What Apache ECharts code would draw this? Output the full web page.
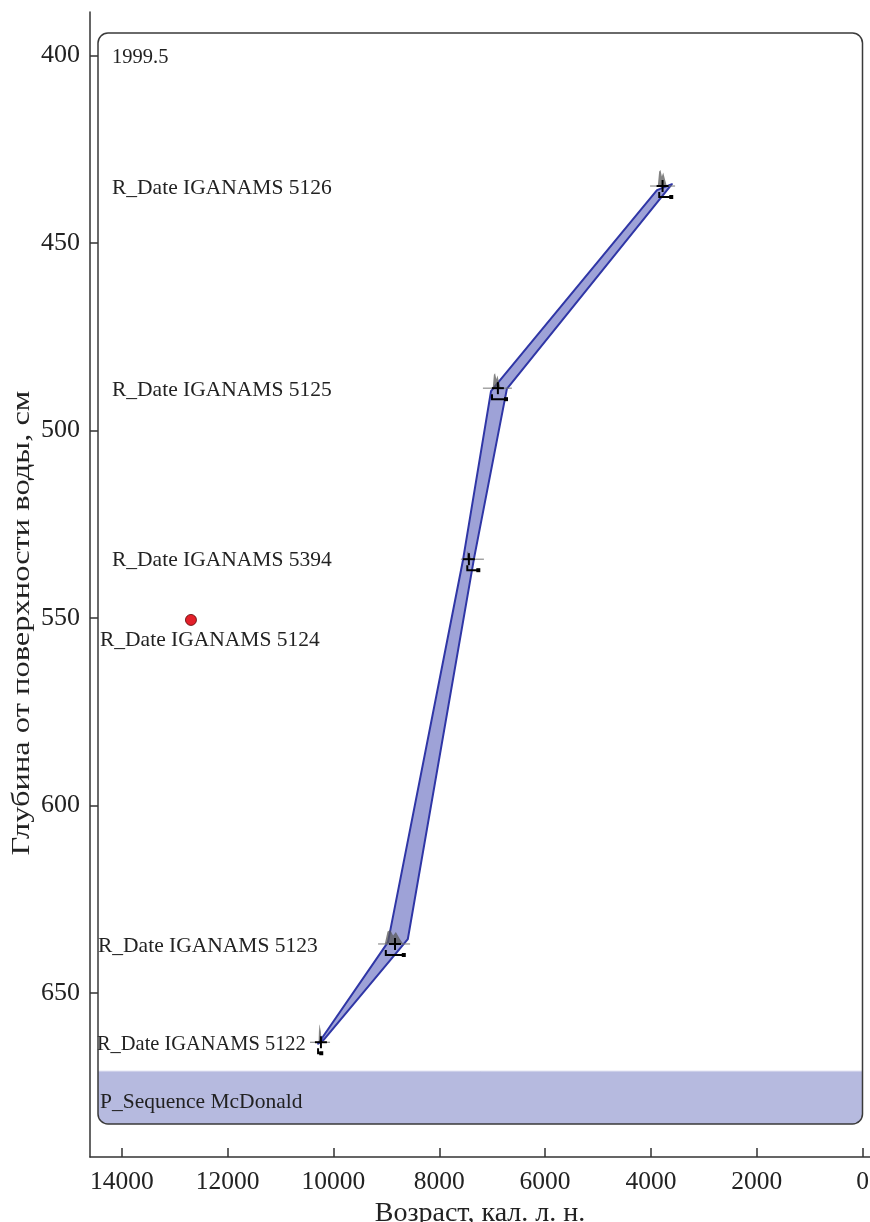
<!DOCTYPE html>
<html><head><meta charset="utf-8">
<script src="https://cdn.jsdelivr.net/npm/echarts@6/dist/echarts.min.js"></script>
<style>html,body{margin:0;padding:0;background:#fff}#c{width:870px;height:1222px}</style>
</head><body><div id="c"></div>
<script>
// ---- data ----
const xTicks = [0, 2000, 4000, 6000, 8000, 10000, 12000, 14000];
const yTicks = [400, 450, 500, 550, 600, 650];

const dateNames = ['R_Date IGANAMS 5126', 'R_Date IGANAMS 5125', 'R_Date IGANAMS 5394', 'R_Date IGANAMS 5123', 'R_Date IGANAMS 5122'];
const dateAge   = [3780, 6892, 7440, 8836, 10236];
const dateDepth = [434.8, 488.7, 534.3, 636.9, 663.1];
const rangeOld   = [4016, 7175, 7591, 9156, 10442];
const rangeYoung = [3543, 6627, 7156, 8551, 10064];
const bracketOld   = [3843, 7003, 7470, 9010, 10290];
const bracketYoung = [3616, 6739, 7262, 8670, 10230];
const distOld   = [3870, 6990, 7480, 9030, 10280];
const distYoung = [3700, 6840, 7400, 8680, 10220];

const outlierName = 'R_Date IGANAMS 5124';
const outlierAge = [12692];
const outlierDepth = [550.5];

const envOldAge     = [3885, 7022, 7551, 8969, 10290];
const envOldDepth   = [435.9, 489.5, 534.5, 636.4, 663.5];
const envYoungAge   = [3604, 6722, 7342, 8594, 10180];
const envYoungDepth = [434.3, 488.9, 534.0, 635.6, 662.4];

const topNote = '1999.5';
const topNoteDepth = 400;
const seqName = 'P_Sequence McDonald';
const seqTopDepth = 670.8;
const seqLabelDepth = 678.6;

// ---- styling (pixel offsets, not data) ----
const labelDx = { note: 22, d0: 22, d1: 22, d2: 22, d3: 8, d4: 7, out: 10, seq: 10 };
const distHeight = [16, 15, 8, 14, 18];

const SERIF = "'Liberation Serif','DejaVu Serif',serif";
const chart = echarts.init(document.getElementById('c'));

// label items: [depth, text, dx, dy, scaleX, fontSize]
const labelItems = [
  [topNoteDepth, topNote, labelDx.note, 2, 1, 20.5],
  [dateDepth[0], dateNames[0], labelDx.d0, 2, 1, 21.5],
  [dateDepth[1], dateNames[1], labelDx.d1, 2, 1, 21.5],
  [dateDepth[2], dateNames[2], labelDx.d2, 1, 1, 21.5],
  [outlierDepth[0], outlierName, labelDx.out, 20, 1, 21.5],
  [dateDepth[3], dateNames[3], labelDx.d3, 2, 1, 21.5],
  [dateDepth[4], dateNames[4], labelDx.d4, 2, 0.95, 21.5],
  [seqLabelDepth, seqName, labelDx.seq, 2, 1, 21.5]
];

const X_MIN = -140, X_MAX = 14600;

const option = {
  animation: false,
  backgroundColor: '#fff',
  grid: { left: 90, right: 0, top: 12, bottom: 65, containLabel: false, outerBoundsMode: 'none' },
  xAxis: {
    type: 'value', min: X_MIN, max: X_MAX, inverse: true,
    name: 'Возраст, кал. л. н.', nameLocation: 'middle', nameGap: 38,
    nameTextStyle: { fontFamily: SERIF, fontSize: 28, color: '#222' },
    axisLine: { show: true, onZero: false, lineStyle: { color: '#333', width: 1.5 } },
    axisTick: { show: true, inside: true, length: 9, customValues: xTicks, lineStyle: { color: '#333', width: 1.5 } },
    axisLabel: { customValues: xTicks, formatter: v => String(v), fontFamily: SERIF, fontSize: 25.5, color: '#222', margin: 12 },
    splitLine: { show: false }
  },
  yAxis: {
    type: 'value', min: 388.4, max: 693.7, inverse: true,
    axisLine: { show: true, onZero: false, lineStyle: { color: '#333', width: 1.5 } },
    axisTick: { show: true, inside: true, length: 8, customValues: yTicks, lineStyle: { color: '#333', width: 1.5 } },
    axisLabel: { customValues: yTicks, formatter: v => String(v), fontFamily: SERIF, fontSize: 26, color: '#222', margin: 10, verticalAlign: 'middle', padding: [7, 0, 0, 0] },
    splitLine: { show: false }
  },
  graphic: [
    { type: 'rect', z: 0, shape: { x: 98, y: 33, width: 764.5, height: 1091, r: 10 }, style: { fill: '#fff' } },
    { type: 'text', z: 5, x: 22, y: 623, rotation: Math.PI / 2, scaleX: 1.3,
      style: { text: 'Глубина от поверхности воды, см', font: "25px " + SERIF, fill: '#222', align: 'center', verticalAlign: 'middle' } }
  ],
  series: [
    { // sequence band + panel border
      type: 'custom', z: 1, silent: true,
      data: [[X_MAX, seqTopDepth]],
      renderItem: function (params, api) {
        const top = api.coord([X_MAX, seqTopDepth])[1];
        return { type: 'group', children: [
          { type: 'rect', shape: { x: 98, y: top, width: 764.5, height: 1124 - top, r: [0, 0, 10, 10] }, style: { fill: '#b6badf' } },
          { type: 'line', shape: { x1: 98, y1: top, x2: 862.5, y2: top }, style: { stroke: '#dcdef0', lineWidth: 1 } },
          { type: 'rect', shape: { x: 98, y: 33, width: 764.5, height: 1091, r: 10 }, style: { fill: 'none', stroke: '#3a3a3a', lineWidth: 1.5 } }
        ] };
      }
    },
    { // envelope
      type: 'custom', z: 3, silent: true,
      data: [[envOldAge[0], envOldDepth[0]]],
      renderItem: function (params, api) {
        const pts = [];
        for (let i = 0; i < envOldAge.length; i++) pts.push(api.coord([envOldAge[i], envOldDepth[i]]));
        for (let i = envYoungAge.length - 1; i >= 0; i--) pts.push(api.coord([envYoungAge[i], envYoungDepth[i]]));
        return { type: 'polygon', shape: { points: pts }, style: { fill: '#9ea2d7', stroke: '#2f36a6', lineWidth: 2, lineJoin: 'round' } };
      }
    },
    { // date markers
      type: 'custom', z: 4, silent: true,
      data: dateAge.map((a, i) => [a, dateDepth[i], rangeOld[i], rangeYoung[i], bracketOld[i], bracketYoung[i], distOld[i], distYoung[i], i]),
      renderItem: function (params, api) {
        const a = api.value(0), d = api.value(1), i = api.value(8);
        const p = api.coord([a, d]);
        const r0 = api.coord([api.value(2), d])[0], r1 = api.coord([api.value(3), d])[0];
        const b0 = api.coord([api.value(4), d])[0], b1 = api.coord([api.value(5), d])[0];
        const q0 = api.coord([api.value(6), d])[0], q1 = api.coord([api.value(7), d])[0];
        const h = distHeight[i];
        const w = q1 - q0;
        const by = p[1] + 11;
        return { type: 'group', children: [
          { type: 'polygon', shape: { points: [[q0, p[1]], [q0 + w * 0.15, p[1] - h * 0.9], [q0 + w * 0.3, p[1] - h], [q0 + w * 0.45, p[1] - h * 0.6], [q0 + w * 0.6, p[1] - h * 0.85], [q0 + w * 0.8, p[1] - h * 0.4], [q1, p[1]]] },
            style: { fill: 'rgba(90,90,90,0.75)' } },
          { type: 'line', shape: { x1: r0, y1: p[1], x2: r1, y2: p[1] }, style: { stroke: '#777', lineWidth: 1 } },
          { type: 'line', shape: { x1: p[0] - 6, y1: p[1], x2: p[0] + 6, y2: p[1] }, style: { stroke: '#000', lineWidth: 2 } },
          { type: 'line', shape: { x1: p[0], y1: p[1] - 6, x2: p[0], y2: p[1] + 6 }, style: { stroke: '#000', lineWidth: 2 } },
          { type: 'polyline', shape: { points: [[b0, by - 5], [b0, by], [b1, by]] }, style: { stroke: '#000', lineWidth: 2, fill: null } },
          { type: 'rect', shape: { x: b1 - 2, y: by - 2, width: 4, height: 4 }, style: { fill: '#000' } }
        ] };
      }
    },
    { // outlier
      type: 'scatter', z: 5,
      data: outlierAge.map((a, i) => [a, outlierDepth[i]]),
      symbol: 'circle', symbolSize: 11,
      itemStyle: { color: '#e3202a', borderColor: '#5a0000', borderWidth: 0.8, opacity: 1 }
    },
    { // labels
      type: 'custom', z: 6, silent: true,
      data: labelItems.map((l, i) => [X_MAX, l[0], i]),
      renderItem: function (params, api) {
        const it = labelItems[api.value(2)];
        const p = api.coord([X_MAX, api.value(1)]);
        return { type: 'text', x: p[0] + it[2], y: p[1] + it[3], scaleX: it[4],
          style: { text: it[1], font: it[5] + "px " + SERIF, fill: '#222', align: 'left', verticalAlign: 'middle' } };
      }
    }
  ]
};
chart.setOption(option);
</script>
</body></html>
